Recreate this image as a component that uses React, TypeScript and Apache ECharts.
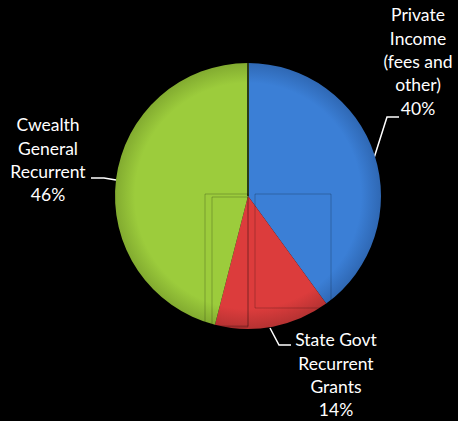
import React, { useEffect, useRef } from "react";
import * as echarts from "echarts";

const categories = ["Private\nIncome\n(fees and\nother)", "State Govt\nRecurrent\nGrants", "Cwealth\nGeneral\nRecurrent"];
const values = [40, 14, 46];
const colors = ["#3b7fd6", "#dc3c3c", "#9ccc3c"];
const rimColors = ["#2f68b4", "#b53232", "#82ab30"];

// label anchor (center x, top y) and leader line points per slice
const labelPos = [
  { x: 418, y: 3 },
  { x: 336, y: 328 },
  { x: 48, y: 113 },
];
const leaderLines = [
  [[374, 158], [387, 117], [399, 117]],
  [[270, 328], [279, 345], [291, 345]],
  [[116, 180], [104, 178], [91, 178]],
];

export default function App() {
  const ref = useRef<HTMLDivElement>(null);
  useEffect(() => {
    if (!ref.current) return;
    const chart = echarts.init(ref.current, null, { renderer: "svg" });
    const cx = 248, cy = 196, r = 133;
    chart.setOption({
      animation: false,
      backgroundColor: "#000000",
      series: [
        {
          type: "pie",
          center: [cx, cy],
          radius: r,
          startAngle: 90,
          clockwise: true,
          avoidLabelOverlap: false,
          data: categories.map((c, i) => ({
            name: c,
            value: values[i],
            itemStyle: {
              color: {
                type: "radial",
                x: cx,
                y: cy,
                r: r,
                global: true,
                colorStops: [
                  { offset: 0, color: colors[i] },
                  { offset: 0.85, color: colors[i] },
                  { offset: 1, color: rimColors[i] },
                ],
              },
            },
          })),
          label: {
            show: true,
            formatter: "{b}\n{d}%",
            color: "#ffffff",
            fontFamily: "Lato",
            fontSize: 17.5,
            lineHeight: 23.4,
            align: "center",
          },
          labelLine: {
            show: true,
            lineStyle: { color: "#ffffff", width: 1.5 },
          },
          labelLayout: (params: any) => {
            const i = params.dataIndex;
            return {
              x: labelPos[i].x,
              y: labelPos[i].y,
              align: "center",
              verticalAlign: "top",
              labelLinePoints: leaderLines[i],
            };
          },
          emphasis: { disabled: true },
        },
      ],
      graphic: [
        {
          type: "line",
          shape: { x1: 248, y1: 63, x2: 248, y2: 196 },
          style: { stroke: "#2a3a18", lineWidth: 2 },
          z: 10,
        },
        {
          type: "rect",
          shape: { x: 205, y: 194, width: 43, height: 133 },
          style: { fill: "none", stroke: "rgba(0,0,0,0.22)", lineWidth: 1 },
          z: 10,
        },
        {
          type: "rect",
          shape: { x: 212, y: 197, width: 36, height: 129 },
          style: { fill: "none", stroke: "rgba(0,0,0,0.22)", lineWidth: 1 },
          z: 10,
        },
        {
          type: "rect",
          shape: { x: 255, y: 194, width: 76, height: 114 },
          style: { fill: "none", stroke: "rgba(0,0,0,0.22)", lineWidth: 1 },
          z: 10,
        },
      ],
    });
    return () => chart.dispose();
  }, []);
  return (
    <div
      ref={ref}
      style={{ position: "fixed", left: 0, top: 0, width: 458, height: 421, background: "#000" }}
    />
  );
}
